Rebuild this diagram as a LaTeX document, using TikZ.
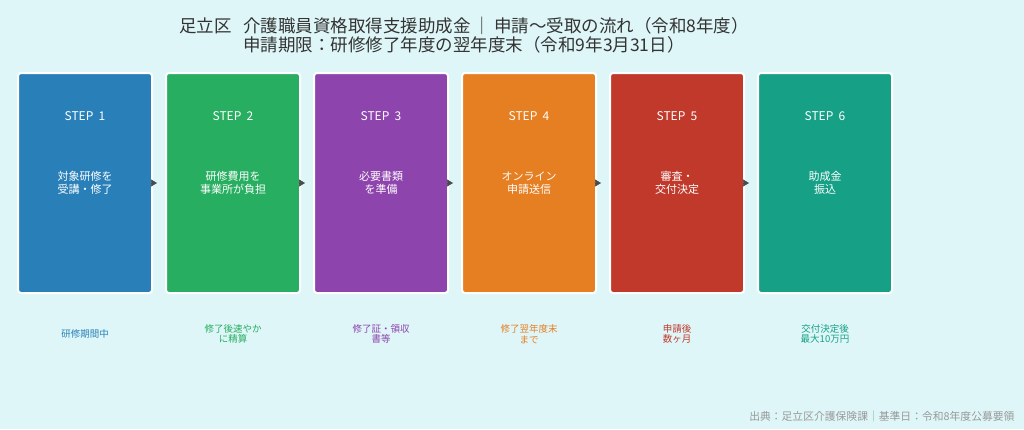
\documentclass[tikz,border=0pt]{standalone}
\usepackage{fontspec}
\setmainfont{Noto Sans CJK JP}
\usetikzlibrary{positioning,arrows.meta}
\definecolor{bgcyan}{HTML}{DFF6F8}
\definecolor{titlegray}{HTML}{333333}
\definecolor{footgray}{HTML}{999999}
\definecolor{arrowgray}{HTML}{4A4A4A}
\definecolor{stepblue}{HTML}{2980B9}
\definecolor{stepgreen}{HTML}{27AE60}
\definecolor{steppurple}{HTML}{8E44AD}
\definecolor{steporange}{HTML}{E67E22}
\definecolor{stepred}{HTML}{C0392B}
\definecolor{stepteal}{HTML}{16A085}
\pgfmathsetmacro{\boxwidth}{134}
\pgfmathsetmacro{\boxheight}{220}
\pgfmathsetmacro{\boxgap}{12}

\begin{document}
\begin{tikzpicture}[x=1pt, y=-1pt,
    stepbox/.style={draw=white, line width=2pt, rounded corners=3pt,
        minimum width=\boxwidth pt, minimum height=\boxheight pt, inner sep=0pt,
        text=white, align=center, font=\fontsize{11}{12.5}\selectfont},
    steplabel/.style={text=white, font=\fontsize{12}{14}\selectfont},
    note/.style={align=center, font=\fontsize{9.5}{10.5}\selectfont},
    flowarrow/.style={-{Triangle[length=6pt, width=7pt]}, arrowgray,
        line width=0.5pt, shorten >=8pt},
]
    \useasboundingbox[fill=bgcyan] (0,0) rectangle (1024,429);
    % title
    \node[text=titlegray, align=center, font=\fontsize{17.5}{19.5}\selectfont] (title) at (464,35)
        {足立区\ \ \ 介護職員資格取得支援助成金\hspace{3pt}｜\hspace{3pt}申請〜受取の流れ（令和8年度）\\
         申請期限：研修修了年度の翌年度末（令和9年3月31日）};
    % define steps
    \node[stepbox, fill=stepblue] (step_1) at (85,183) {対象研修を\\受講・修了};
    \node[stepbox, fill=stepgreen, right=\boxgap pt of step_1] (step_2) {研修費用を\\事業所が負担};
    \node[stepbox, fill=steppurple, right=\boxgap pt of step_2] (step_3) {必要書類\\を準備};
    \node[stepbox, fill=steporange, right=\boxgap pt of step_3] (step_4) {オンライン\\申請送信};
    \node[stepbox, fill=stepred, right=\boxgap pt of step_4] (step_5) {審査・\\交付決定};
    \node[stepbox, fill=stepteal, right=\boxgap pt of step_5] (step_6) {助成金\\振込};
    % step numbers
    \node[steplabel, below=44pt of step_1.north, anchor=center] (num_1) {STEP\ \ 1};
    \node[steplabel, below=44pt of step_2.north, anchor=center] (num_2) {STEP\ \ 2};
    \node[steplabel, below=44pt of step_3.north, anchor=center] (num_3) {STEP\ \ 3};
    \node[steplabel, below=44pt of step_4.north, anchor=center] (num_4) {STEP\ \ 4};
    \node[steplabel, below=44pt of step_5.north, anchor=center] (num_5) {STEP\ \ 5};
    \node[steplabel, below=44pt of step_6.north, anchor=center] (num_6) {STEP\ \ 6};
    % draw arrows
    \draw[flowarrow] (step_1) -- (step_2);
    \draw[flowarrow] (step_2) -- (step_3);
    \draw[flowarrow] (step_3) -- (step_4);
    \draw[flowarrow] (step_4) -- (step_5);
    \draw[flowarrow] (step_5) -- (step_6);
    % add notes
    \node[note, text=stepblue, below=40pt of step_1.south, anchor=center] (note_1) {研修期間中};
    \node[note, text=stepgreen, below=40pt of step_2.south, anchor=center] (note_2) {修了後速やか\\に精算};
    \node[note, text=steppurple, below=40pt of step_3.south, anchor=center] (note_3) {修了証・領収\\書等};
    \node[note, text=steporange, below=40pt of step_4.south, anchor=center] (note_4) {修了翌年度末\\まで};
    \node[note, text=stepred, below=40pt of step_5.south, anchor=center] (note_5) {申請後\\数ヶ月};
    \node[note, text=stepteal, below=40pt of step_6.south, anchor=center] (note_6) {交付決定後\\最大10万円};
    % source
    \node[text=footgray, anchor=east, font=\fontsize{10.8}{12}\selectfont] (source) at (1018,416)
        {出典：足立区介護保険課｜基準日：令和8年度公募要領};
\end{tikzpicture}
\end{document}
